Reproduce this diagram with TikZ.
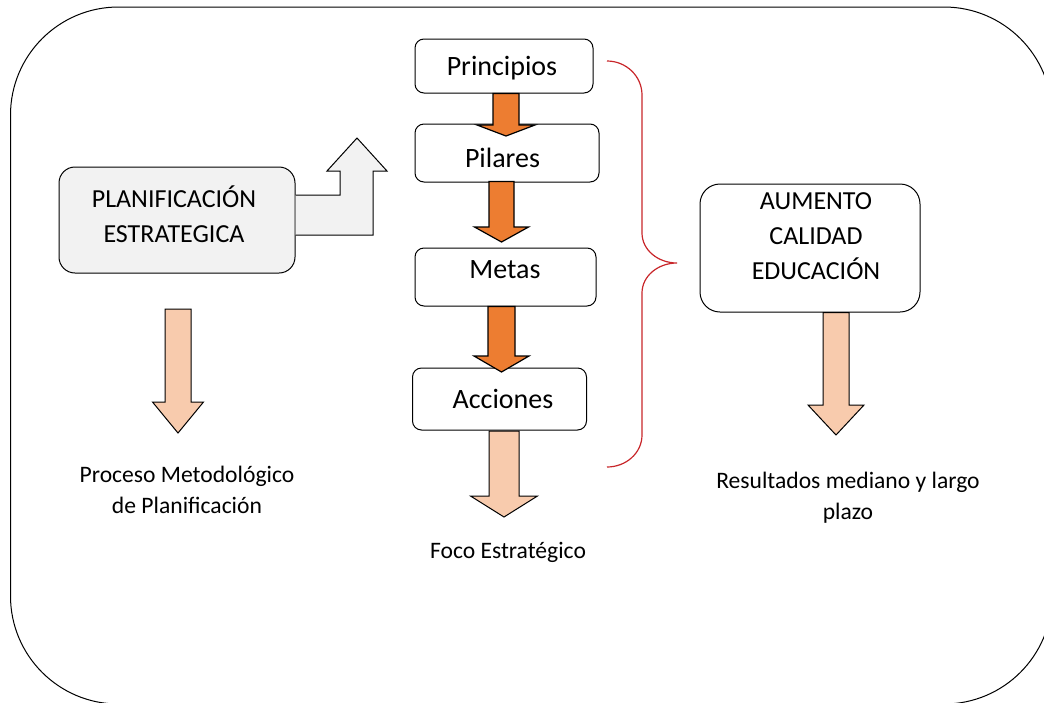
\documentclass[tikz,border=0pt]{standalone}
\usepackage{fontspec}
\setmainfont{Carlito}
\definecolor{orangeA}{HTML}{ED7D31}
\definecolor{peach}{HTML}{F8CBAD}
\definecolor{lgray}{HTML}{F2F2F2}
\definecolor{braceRed}{HTML}{C8262A}
\newcommand{\BlkDown}[7]{%
  \draw[#1] (#2-#3,#5) -- (#2+#3,#5) -- (#2+#3,#6) -- (#2+#4,#6) -- (#2,#7)
    -- (#2-#4,#6) -- (#2-#3,#6) -- cycle;}
\tikzset{
  stepbox/.style={draw, line width=1pt, rounded corners=9pt, fill=white},
  steptext/.style={anchor=base, inner sep=0pt, font=\fontsize{28}{34}\selectfont},
  bigbox/.style={draw, line width=1pt, rounded corners=16pt},
  bigtext/.style={align=center, font=\fontsize{26}{35}\selectfont},
  lbl/.style={align=center, font=\fontsize{23.6}{31}\selectfont},
  orangearrow/.style={draw=black, line width=1.2pt, fill=orangeA, line join=miter},
  peacharrow/.style={draw=black, line width=1pt, fill=peach, line join=miter},
}
\begin{document}
\begin{tikzpicture}[x=1pt,y=-1pt]
\useasboundingbox (0,0) rectangle (1044,702);
\begin{scope}
\clip (0,0) rectangle (1044,702);
\draw[line width=1pt, rounded corners=108pt] (10.5,7) rectangle (1052,704);
\end{scope}

% boxes
\node[bigbox, fill=lgray, minimum width=236pt, minimum height=106pt] (plan) at (177,220) {};
\node[bigtext] (planT) at (174,214) {PLANIFICACIÓN\\ESTRATEGICA};
\node[stepbox, minimum width=178pt, minimum height=54pt] (prin) at (504,66) {};
\node[stepbox, minimum width=184pt, minimum height=58pt] (pil) at (507,153) {};
\node[stepbox, minimum width=181pt, minimum height=58pt] (met) at (505.5,277) {};
\node[stepbox, minimum width=174pt, minimum height=62pt] (acc) at (499.5,399) {};
\node[steptext] (prinT) at (502,75) {Principios};
\node[steptext] (pilT) at (502.5,167) {Pilares};
\node[steptext] (metT) at (505,278) {Metas};
\node[steptext] (accT) at (503,408) {Acciones};
\node[bigbox, fill=white, rounded corners=20pt, minimum width=220pt, minimum height=128pt] (aum) at (810,248) {};
\node[bigtext] (aumT) at (816,236) {AUMENTO\\CALIDAD\\EDUCACIÓN};

% bent arrow
\draw[line width=1pt, fill=lgray, line join=miter]
  (plan.east |- 0,195) -- (340,195) -- (340,171) -- (327,171) -- (357,138)
  -- (387,171) -- (373,171) -- (373,235) -- (plan.east |- 0,235);

% orange arrows between steps
\BlkDown{orangearrow}{506}{13}{29}{93.5}{125}{136}
\BlkDown{orangearrow}{501.5}{12.5}{27}{181.5}{227}{242}
\BlkDown{orangearrow}{501.5}{13.5}{27.5}{306.5}{356}{372}

% peach arrows
\BlkDown{peacharrow}{504}{15}{33.5}{431}{496}{517}
\BlkDown{peacharrow}{178}{13}{25.5}{309}{402}{433}
\BlkDown{peacharrow}{836}{13}{28}{312.5}{405}{435}

% brace
\draw[braceRed, line width=1.2pt]
  (607,61) .. controls (626,61) and (642,76) .. (642,95) -- (642,233)
  .. controls (642,250) and (658,263) .. (677,263)
  .. controls (658,263) and (642,276) .. (642,293) -- (642,435)
  .. controls (642,453) and (626,467) .. (607,467);

% labels
\node[lbl] (proc) at (187,490) {Proceso Metodológico\\de Planificación};
\node[lbl] (foco) at (508,552) {Foco Estratégico};
\node[lbl] (res) at (848,498) {Resultados mediano y largo\\plazo};
\end{tikzpicture}
\end{document}
